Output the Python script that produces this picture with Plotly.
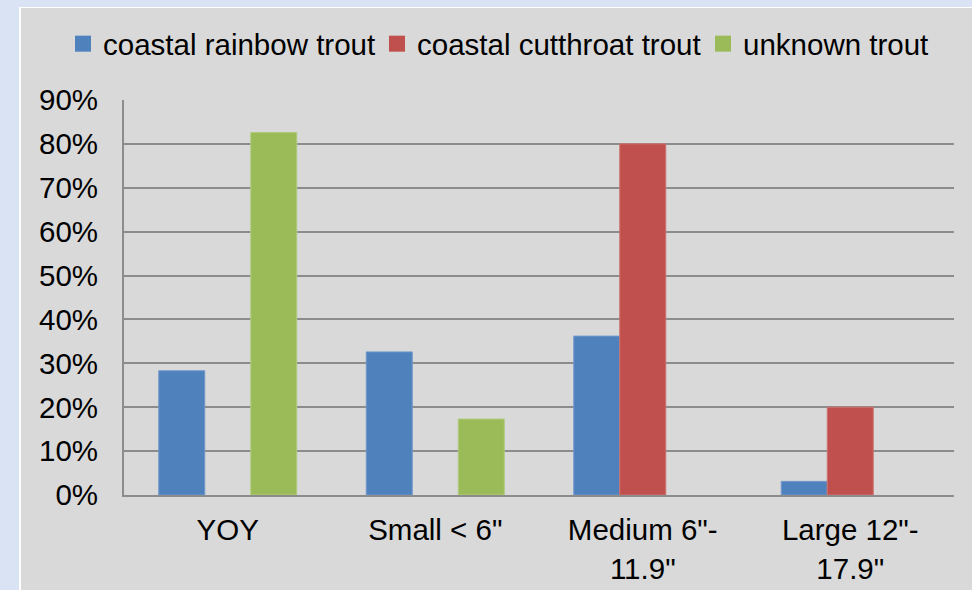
import plotly.graph_objects as go

categories = ["YOY", "Small < 6\"", "Medium 6\"-<br>11.9\"", "Large 12\"-<br>17.9\""]
series_names = ["coastal rainbow trout", "coastal cutthroat trout", "unknown trout"]
rainbow = [0.283, 0.326, 0.362, 0.031]
cutthroat = [None, None, 0.80, 0.20]
unknown = [0.826, 0.173, None, None]
tick_vals = [0, 0.1, 0.2, 0.3, 0.4, 0.5, 0.6, 0.7, 0.8, 0.9]
tick_text = ["0%", "10%", "20%", "30%", "40%", "50%", "60%", "70%", "80%", "90%"]

colors = ["#4f81bd", "#c0504d", "#9bbb59"]
edge = ["#6f98cb", "#cf716e", "#b0cb7c"]
legend_widths = [269, 281, None]

W, H = 972, 590
ML, MR, MT, MB = 124, 18, 100, 95
PW = W - ML - MR
PH = H - MT - MB

def px_x(px):
    return (px - ML) / PW

def px_y(py):
    return (H - MB - py) / PH

FONT = "Liberation Sans, Arial, sans-serif"
FS = 29.5

fig = go.Figure()
for name, vals, c, e in zip(series_names, [rainbow, cutthroat, unknown], colors, edge):
    fig.add_trace(go.Bar(x=categories, y=vals, name=name, marker=dict(color=c, line=dict(color=e, width=1)),
                         showlegend=False))
for name, c, lw in zip(series_names, colors, legend_widths):
    fig.add_trace(go.Scatter(x=[None], y=[None], mode="markers", name=name, legendwidth=lw,
                             marker=dict(symbol="square", size=16, color=c)))

shapes = [
    dict(type="rect", xref="paper", yref="paper", x0=px_x(-5), x1=px_x(19), y0=px_y(600), y1=px_y(-5),
         fillcolor="#dae3f3", line=dict(width=0), layer="below"),
    dict(type="rect", xref="paper", yref="paper", x0=px_x(-5), x1=px_x(980), y0=px_y(7), y1=px_y(-5),
         fillcolor="#dae3f3", line=dict(width=0), layer="below"),
    dict(type="rect", xref="paper", yref="paper", x0=px_x(19), x1=px_x(21), y0=px_y(600), y1=px_y(7),
         fillcolor="#ffffff", line=dict(width=0), layer="below"),
    dict(type="rect", xref="paper", yref="paper", x0=px_x(19), x1=px_x(980), y0=px_y(8), y1=px_y(7),
         fillcolor="#ffffff", line=dict(width=0), layer="below"),
]

fig.update_layout(
    width=W, height=H,
    margin=dict(l=ML, r=MR, t=MT, b=MB, pad=0, autoexpand=False),
    paper_bgcolor="#d9d9d9", plot_bgcolor="#d9d9d9",
    barmode="group", bargap=0.335, bargroupgap=0,
    font=dict(family=FONT, size=FS, color="#000000"),
    shapes=shapes,
    legend=dict(orientation="h", x=px_x(63), xanchor="left", y=px_y(18), yanchor="top",
                font=dict(size=FS), bgcolor="rgba(0,0,0,0)", itemwidth=30),
    xaxis=dict(showgrid=False, showline=True, linecolor="#8c8c8c", linewidth=2, automargin=False,
               ticks="", ticklabelstandoff=8, tickfont=dict(size=FS)),
    yaxis=dict(range=[0, 0.9], tickvals=tick_vals, ticktext=tick_text, showgrid=True, automargin=False,
               gridcolor="#8c8c8c", gridwidth=2, showline=True, linecolor="#8c8c8c", linewidth=2,
               zeroline=False, ticks="", ticklabelstandoff=18, tickfont=dict(size=FS)),
)

fig.write_html("out.html", config={"displayModeBar": False},
               post_script="document.body.style.margin='0';document.body.style.overflow='hidden';")
